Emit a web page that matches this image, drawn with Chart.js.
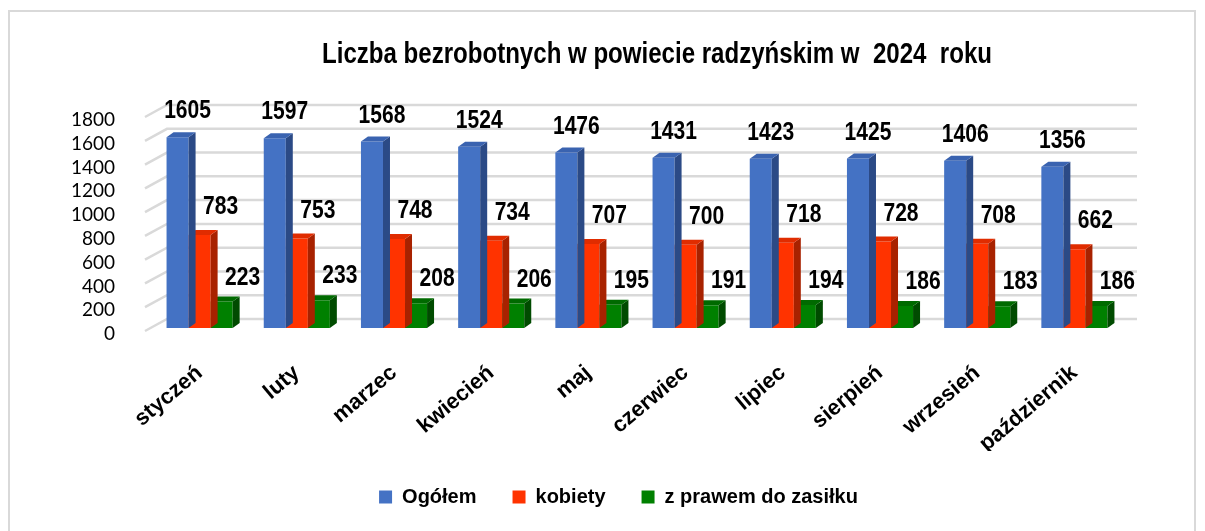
<!DOCTYPE html>
<html>
<head>
<meta charset="utf-8">
<script src="https://cdn.jsdelivr.net/npm/chart.js@4.4.1/dist/chart.umd.min.js"></script>
<style>
  html, body { margin: 0; padding: 0; background: #fff; }
  #wrap { width: 1205px; height: 531px; }
</style>
</head>
<body>
<div id="wrap"><canvas id="mainChart" width="1205" height="531"></canvas></div>
<script>
// Dane z wykresu
const months = ['styczeń', 'luty', 'marzec', 'kwiecień', 'maj', 'czerwiec', 'lipiec', 'sierpień', 'wrzesień', 'październik'];
const ogolem = [1605, 1597, 1568, 1524, 1476, 1431, 1423, 1425, 1406, 1356];
const kobiety = [783, 753, 748, 734, 707, 700, 718, 728, 708, 662];
const zasilek = [223, 233, 208, 206, 195, 191, 194, 186, 183, 186];
const yTicks = [0, 200, 400, 600, 800, 1000, 1200, 1400, 1600, 1800];
const titleText = 'Liczba bezrobotnych w powiecie radzyńskim w  2024  roku';

const arial = '"Liberation Sans", Arial, sans-serif';

// kolory: przód, bok, góra + przesunięcie etykiet
const faces = [
    { front: '#4472C4', side: '#2B4A86', top: '#3A63B0', dx: 10, dy: -26 },
    { front: '#FF3300', side: '#A82200', top: '#E02C00', dx: 21, dy: -28 },
    { front: '#008000', side: '#004B00', top: '#006A00', dx: 21, dy: -24 }
];
const DEPTH_X = 7, DEPTH_Y = 5;

// tekst "zwężony" jak Arial Narrow
function narrowText(c, text, x, y, size, squeeze) {
    c.save();
    c.font = 'bold ' + size + 'px ' + arial;
    c.translate(x, y);
    c.scale(squeeze, 1);
    c.fillText(text, 0, 0);
    c.restore();
}

// tło, ramka, tytuł i siatka "w głębi"
const backdrop = {
    id: 'backdrop',
    beforeDraw(chart) {
        const c = chart.ctx;
        c.save();
        c.fillStyle = '#fff';
        c.fillRect(0, 0, chart.width, chart.height);
        c.strokeStyle = '#d9d9d9';
        c.lineWidth = 2;
        c.strokeRect(9, 11, 1186, 560);
        c.fillStyle = '#000';
        c.textAlign = 'center';
        c.textBaseline = 'alphabetic';
        c.font = 'bold 29px ' + arial;
        const squeeze = 670 / c.measureText(titleText).width;
        narrowText(c, titleText, 657, 63, 29, squeeze);
        c.restore();
    },
    beforeDatasetsDraw(chart) {
        const c = chart.ctx, y = chart.scales.y, a = chart.chartArea;
        c.save();
        c.strokeStyle = '#d9d9d9';
        c.lineWidth = 2.5;
        yTicks.forEach(v => {
            const py = y.getPixelForValue(v);
            c.beginPath();
            c.moveTo(a.left - 6, py + 3);
            c.lineTo(a.left + 16, py - 9);
            c.lineTo(a.right + 14, py - 9);
            c.stroke();
        });
        c.restore();
    }
};

// legenda przesunięta w prawo jak w oryginale
const legendShift = {
    id: 'legendShift',
    afterUpdate(chart) {
        const lg = chart.legend;
        if (lg) {
            lg.left += 94;
            lg.width = lg.right - lg.left;
            lg.adjustHitBoxes();
        }
    }
};

// boki i wierzch słupków (efekt 3D) + etykiety wartości
const bars3d = {
    id: 'bars3d',
    afterDatasetDraw(chart, args) {
        const c = chart.ctx, f = faces[args.index];
        const meta = chart.getDatasetMeta(args.index);
        c.save();
        meta.data.forEach(bar => {
            const half = bar.width / 2;
            const x1 = bar.x - half, x2 = bar.x + half, top = bar.y, base = bar.base;
            c.fillStyle = f.side;
            c.beginPath();
            c.moveTo(x2, top);
            c.lineTo(x2 + DEPTH_X, top - DEPTH_Y);
            c.lineTo(x2 + DEPTH_X, base - DEPTH_Y);
            c.lineTo(x2, base);
            c.closePath();
            c.fill();
            c.fillStyle = f.top;
            c.beginPath();
            c.moveTo(x1, top);
            c.lineTo(x1 + DEPTH_X, top - DEPTH_Y);
            c.lineTo(x2 + DEPTH_X, top - DEPTH_Y);
            c.lineTo(x2, top);
            c.closePath();
            c.fill();
        });
        c.restore();
    },
    afterDatasetsDraw(chart) {
        const c = chart.ctx;
        c.save();
        c.fillStyle = '#000';
        c.textAlign = 'center';
        c.textBaseline = 'middle';
        chart.data.datasets.forEach((ds, i) => {
            const f = faces[i];
            chart.getDatasetMeta(i).data.forEach((bar, j) => {
                narrowText(c, String(ds.data[j]), bar.x + f.dx, bar.y + f.dy, 26, 0.81);
            });
        });
        c.restore();
    }
};

const ctx = document.getElementById('mainChart').getContext('2d');
new Chart(ctx, {
    type: 'bar',
    data: {
        labels: months,
        datasets: [
            { label: 'Ogółem', data: ogolem, backgroundColor: faces[0].front },
            { label: 'kobiety', data: kobiety, backgroundColor: faces[1].front },
            { label: 'z prawem do zasiłku', data: zasilek, backgroundColor: faces[2].front }
        ]
    },
    options: {
        responsive: false,
        animation: false,
        events: [],
        layout: { padding: { top: 114, left: 20, right: 82, bottom: 14 } },
        datasets: { bar: { categoryPercentage: 0.68, barPercentage: 1, borderWidth: 0 } },
        plugins: {
            title: { display: false },
            legend: {
                position: 'bottom',
                labels: {
                    color: '#000',
                    boxWidth: 13,
                    boxHeight: 13,
                    padding: 36,
                    font: { family: arial, size: 20, weight: 'bold' }
                }
            },
            tooltip: { enabled: false }
        },
        scales: {
            x: {
                grid: { display: false },
                border: { display: false },
                ticks: {
                    color: '#000',
                    minRotation: 40,
                    maxRotation: 40,
                    padding: 24,
                    font: { family: arial, size: 22, weight: 'bold' }
                },
                afterFit: s => { s.height = 123; }
            },
            y: {
                min: 0,
                max: 1800,
                grid: { display: false },
                border: { display: false },
                ticks: {
                    stepSize: 200,
                    autoSkip: false,
                    color: '#000',
                    padding: 28,
                    labelOffset: 6,
                    callback: v => String(v),
                    font: { family: 'Lato, "Open Sans", sans-serif', size: 19 }
                },
                afterFit: s => { s.width = 131; }
            }
        }
    },
    plugins: [backdrop, legendShift, bars3d]
});
</script>
</body>
</html>
